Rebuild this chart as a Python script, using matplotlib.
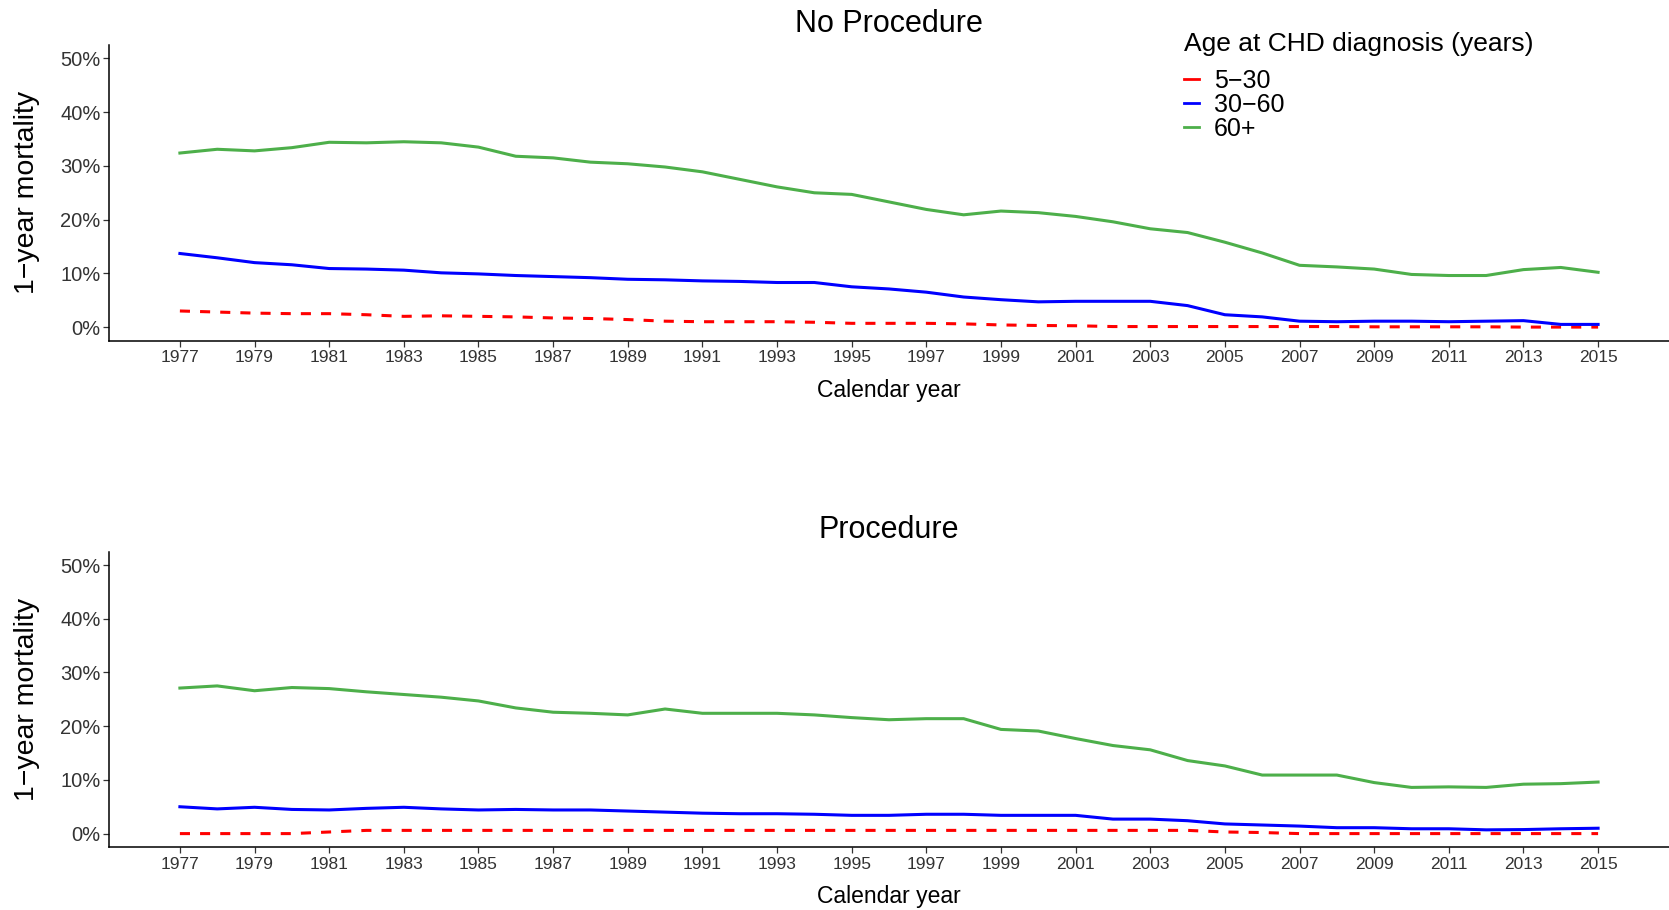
import numpy as np
import matplotlib
matplotlib.use('Agg')
import matplotlib.pyplot as plt
from matplotlib.lines import Line2D
from matplotlib.ticker import PercentFormatter

plt.rcParams['font.family'] = ['Liberation Sans', 'DejaVu Sans']

years = list(range(1977, 2016))
age_groups = ['5\u221230', '30\u221260', '60+']
colors = ['#FF0000', '#0000FF', '#4DAF4A']
styles = [(0, (3.3, 3.3)), '-', '-']

# 1-year mortality (%) without procedure
noproc_5_30 = [3.0, 2.8, 2.6, 2.5, 2.5, 2.3, 2.0, 2.1, 2.0, 1.9,
               1.7, 1.6, 1.4, 1.1, 1.0, 1.0, 1.0, 0.9, 0.7, 0.7,
               0.7, 0.6, 0.4, 0.3, 0.25, 0.1, 0.1, 0.1, 0.1, 0.1,
               0.1, 0.1, 0.05, 0.05, 0.05, 0.05, 0.0, 0.0, 0.0]
noproc_30_60 = [13.7, 12.9, 12.0, 11.6, 10.9, 10.8, 10.6, 10.1, 9.9, 9.6,
                9.4, 9.2, 8.9, 8.8, 8.6, 8.5, 8.3, 8.3, 7.5, 7.1,
                6.5, 5.6, 5.1, 4.7, 4.8, 4.8, 4.8, 4.0, 2.3, 1.9,
                1.1, 1.0, 1.1, 1.1, 1.0, 1.1, 1.2, 0.5, 0.5]
noproc_60 = [32.4, 33.1, 32.8, 33.4, 34.4, 34.3, 34.5, 34.3, 33.5, 31.8,
             31.5, 30.7, 30.4, 29.8, 28.9, 27.5, 26.1, 25.0, 24.7, 23.3,
             21.9, 20.9, 21.6, 21.3, 20.6, 19.6, 18.3, 17.6, 15.8, 13.8,
             11.5, 11.2, 10.8, 9.8, 9.6, 9.6, 10.7, 11.1, 10.2]

# 1-year mortality (%) with procedure
proc_5_30 = [0.0, 0.0, 0.0, 0.0, 0.3, 0.6, 0.6, 0.6, 0.6, 0.6,
             0.6, 0.6, 0.6, 0.6, 0.6, 0.6, 0.6, 0.6, 0.6, 0.6,
             0.6, 0.6, 0.6, 0.6, 0.6, 0.6, 0.6, 0.6, 0.3, 0.2,
             0.0, 0.0, 0.0, 0.0, 0.0, 0.0, 0.0, 0.0, 0.0]
proc_30_60 = [5.0, 4.6, 4.9, 4.5, 4.4, 4.7, 4.9, 4.6, 4.4, 4.5,
              4.4, 4.4, 4.2, 4.0, 3.8, 3.7, 3.7, 3.6, 3.4, 3.4,
              3.6, 3.6, 3.4, 3.4, 3.4, 2.7, 2.7, 2.4, 1.8, 1.6,
              1.4, 1.1, 1.1, 0.9, 0.9, 0.7, 0.75, 0.9, 1.0]
proc_60 = [27.1, 27.5, 26.6, 27.2, 27.0, 26.4, 25.9, 25.4, 24.7, 23.4,
           22.6, 22.4, 22.1, 23.2, 22.4, 22.4, 22.4, 22.1, 21.6, 21.2,
           21.4, 21.4, 19.4, 19.1, 17.7, 16.4, 15.6, 13.6, 12.6, 10.9,
           10.9, 10.9, 9.5, 8.6, 8.7, 8.6, 9.2, 9.3, 9.6]

panels = [
    ('No Procedure', [noproc_5_30, noproc_30_60, noproc_60]),
    ('Procedure', [proc_5_30, proc_30_60, proc_60]),
]

fig = plt.figure(figsize=(16.69, 9.10), dpi=100)
axes_pos = [[0.0653, 0.6258, 0.9347, 0.3247],
            [0.0653, 0.0692, 0.9347, 0.3246]]

for (title, series), pos in zip(panels, axes_pos):
    ax = fig.add_axes(pos)
    for vals, lab, col, ls in zip(series, age_groups, colors, styles):
        ax.plot(years, vals, color=col, linestyle=ls, lw=2.2, label=lab)
    ax.set_xlim(1975.1, 2016.9)
    ax.set_ylim(-2.5, 52.5)
    ax.set_xticks(list(range(1977, 2016, 2)))
    ax.set_yticks([0, 10, 20, 30, 40, 50])
    ax.yaxis.set_major_formatter(PercentFormatter(100, decimals=0))
    for s in ['top', 'right']:
        ax.spines[s].set_visible(False)
    for s in ['left', 'bottom']:
        ax.spines[s].set_linewidth(1.1)
        ax.spines[s].set_color('black')
    ax.tick_params(axis='x', labelsize=12.5, colors='#333333', length=4, width=0.9, pad=3)
    ax.tick_params(axis='y', labelsize=14.5, colors='#333333', length=4, width=0.9, pad=2)
    ax.set_title(title, fontsize=22, pad=9.5)
    ax.set_xlabel('Calendar year', fontsize=16.5)
    ax.xaxis.set_label_coords(0.5, -0.130)
    ax.set_ylabel('1\u2212year mortality', fontsize=20.5)
    ax.yaxis.set_label_coords(-0.0442, 0.5)

# legend keys are drawn solid, as in the original
handles = [Line2D([], [], color=c, lw=2.0) for c in colors]
leg = fig.legend(handles, age_groups, title='Age at CHD diagnosis (years)',
                 loc='upper left', bbox_to_anchor=(1184 / 1669, 1 - 32 / 910),
                 frameon=False, fontsize=18, title_fontsize=19,
                 handlelength=0.6, handletextpad=0.6, labelspacing=0.0,
                 borderpad=0, borderaxespad=0, alignment='left')
leg._legend_box.sep = 9

fig.savefig('out.png', dpi=100)
